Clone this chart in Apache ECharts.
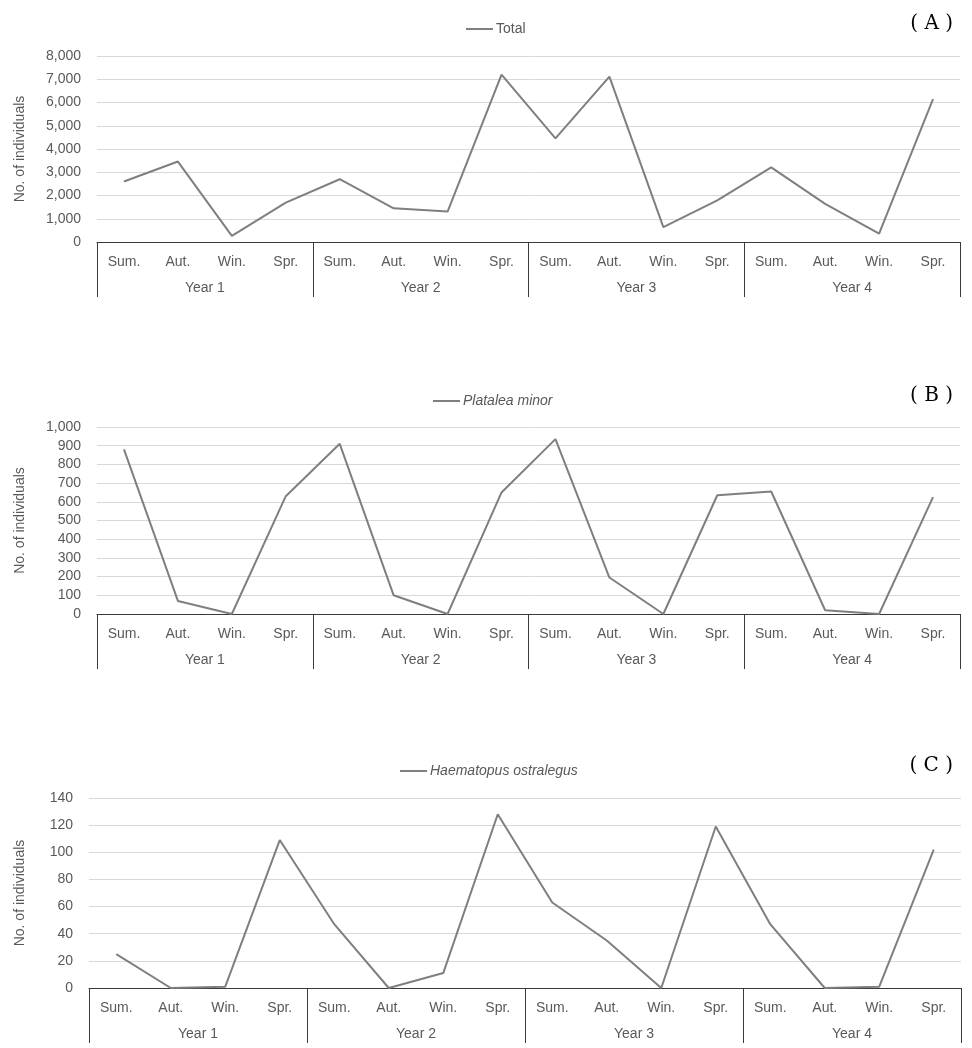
<!DOCTYPE html>
<html>
<head>
<meta charset="utf-8">
<script src="https://cdn.jsdelivr.net/npm/echarts@6/dist/echarts.min.js"></script>
<style>
  html, body { margin: 0; padding: 0; background: #fff; }
  #main { width: 972px; height: 1048px; }
</style>
</head>
<body>
<div id="main"></div>
<script>
// categories
const seasons = ['Sum.', 'Aut.', 'Win.', 'Spr.']
const years = ['Year 1', 'Year 2', 'Year 3', 'Year 4']
const seasonCats = [].concat(seasons, seasons, seasons, seasons)

// series values
const totalData = [2600, 3460, 260, 1690, 2700, 1450, 1310, 7200, 4460, 7110, 640, 1790, 3210, 1640, 360, 6140]
const platalea = [880, 70, 0, 630, 910, 100, 0, 650, 935, 195, 0, 635, 655, 20, 0, 625]
const haematopus = [25, 0, 1, 109, 47, 0, 11, 128, 63, 35, 0, 119, 47, 0, 1, 102]

const seriesNames = ['Total', 'Platalea minor', 'Haematopus ostralegus']
const panelLabels = ['( A )', '( B )', '( C )']
const yMax = [8000, 1000, 140]
const yStep = [1000, 100, 20]

const chart = echarts.init(document.getElementById('main'))

const grids = [
  { left: 97, right: 12, top: 56, height: 186 },
  { left: 97, right: 12, top: 427, height: 187 },
  { left: 89, right: 11, top: 798, height: 190 }
]
const legendTop = [22, 394, 764]
const legendLeft = [466, 433, 400]
const titleTop = [9, 381, 751]

const font = 'Liberation Sans, Arial, sans-serif'
const txt = '#595959'

const xAxes = []
const yAxes = []
const series = []
const legends = []
const titles = []
const datas = [totalData, platalea, haematopus]

grids.forEach((g, i) => {
  xAxes.push({
    type: 'category',
    gridIndex: i,
    data: seasonCats,
    position: 'bottom',
    axisLine: { show: true, lineStyle: { color: '#3a3a3a', width: 1 } },
    axisTick: {
      show: true,
      length: 55,
      interval: function(index) { return index % 4 === 0 },
      lineStyle: { color: '#3a3a3a', width: 1 }
    },
    axisLabel: { interval: 0, color: txt, fontSize: 14, fontFamily: font, margin: 13 },
    splitLine: { show: false }
  })
  xAxes.push({
    type: 'category',
    gridIndex: i,
    data: years,
    position: 'bottom',
    offset: 26,
    axisLine: { show: false },
    axisTick: { show: false },
    axisLabel: { interval: 0, color: txt, fontSize: 14, fontFamily: font, margin: 13 }
  })
  yAxes.push({
    type: 'value',
    gridIndex: i,
    min: 0,
    max: yMax[i],
    interval: yStep[i],
    name: 'No. of individuals',
    nameLocation: 'middle',
    nameRotate: 90,
    nameGap: i === 2 ? 62 : 70,
    nameTextStyle: { color: txt, fontSize: 14, fontFamily: font },
    axisLine: { show: false },
    axisTick: { show: false },
    axisLabel: { color: txt, fontSize: 14, fontFamily: font, margin: 16 },
    splitLine: { show: true, lineStyle: { color: '#d9d9d9', width: 1 } }
  })
  series.push({
    name: seriesNames[i],
    type: 'line',
    xAxisIndex: i * 2,
    yAxisIndex: i,
    data: datas[i],
    symbol: 'none',
    lineStyle: { color: '#7f7f7f', width: 2 },
    itemStyle: { color: '#7f7f7f' }
  })
  legends.push({
    data: [seriesNames[i]],
    top: legendTop[i],
    left: legendLeft[i],
    padding: 0,
    icon: 'rect',
    itemWidth: 27,
    itemHeight: 2,
    itemGap: 4,
    textStyle: {
      color: txt,
      fontSize: 14,
      fontFamily: font,
      fontStyle: i === 0 ? 'normal' : 'italic',
      padding: [0, 0, 0, -2]
    }
  })
  titles.push({
    text: panelLabels[i],
    right: 14,
    top: titleTop[i],
    textStyle: { color: '#000', fontSize: 20, fontWeight: 'normal', fontFamily: 'DejaVu Serif, serif' }
  })
})

chart.setOption({
  animation: false,
  title: titles,
  legend: legends,
  grid: grids,
  xAxis: xAxes,
  yAxis: yAxes,
  series: series
})
</script>
</body>
</html>
